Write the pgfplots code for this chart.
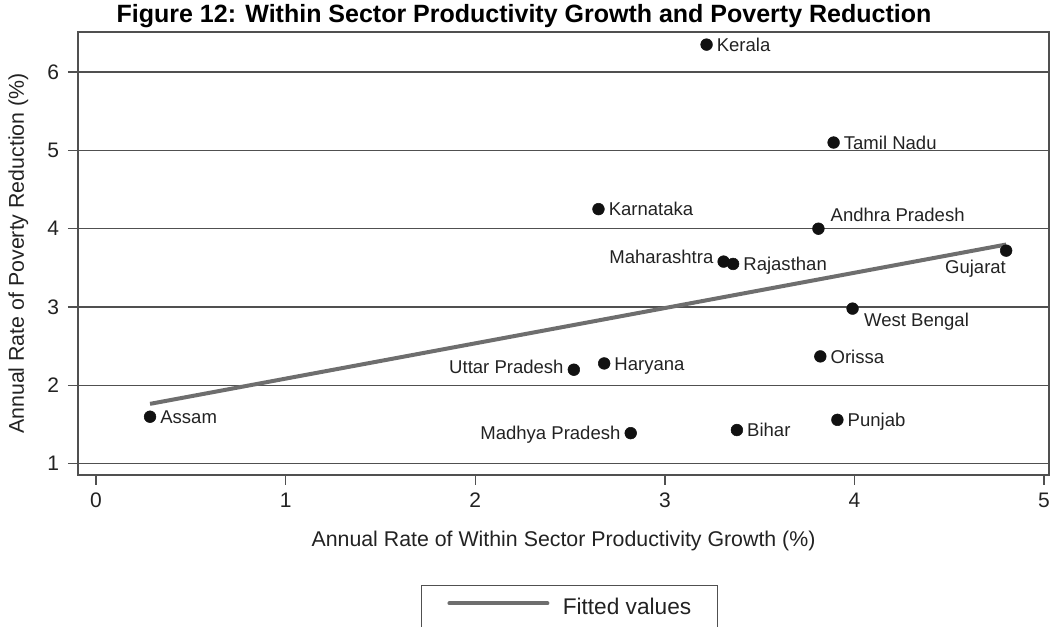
\documentclass[border=0pt]{standalone}
\usepackage{fontspec}
\setmainfont{Liberation Sans}
\usepackage{pgfplots}
\pgfplotsset{compat=1.18}

\definecolor{gridc}{HTML}{505050}
\definecolor{fitc}{HTML}{6E6E6E}
\definecolor{dotc}{HTML}{111111}
\definecolor{txtc}{HTML}{222222}

% labelled state markers: #1 anchor, #2 x offset, #3 y offset
\pgfplotsset{
  states/.style n args={3}{
    only marks, mark=*, mark size=4.4pt,
    mark options={fill=dotc, draw=dotc},
    point meta=explicit symbolic,
    nodes near coords,
    every node near coord/.append style={
      anchor=#1, inner sep=0pt, xshift=#2, yshift=#3,
      font=\fontsize{13.9}{16}\selectfont, text=txtc},
    forget plot,
  },
}

\begin{document}
\begin{tikzpicture}
\begin{axis}[
  at={(0,0)}, anchor=south west,
  scale only axis, width=728.25pt, height=332.25pt,
  xmin=-0.095, xmax=5.026, ymin=0.856, ymax=6.511,
  xtick={0,1,2,3,4,5}, ytick={1,2,3,4,5,6},
  tick align=outside, major tick length=7.5pt,
  xtick pos=bottom, ytick pos=left,
  ymajorgrids, grid style={gridc, line width=1.1pt},
  axis line style={gridc, line width=1pt},
  tick style={gridc, line width=1pt},
  /pgf/number format/assume math mode=true,
  ticklabel style={font=\fontsize{15.75}{18}\selectfont, text=txtc},
  xticklabel style={anchor=north, inner sep=0pt, yshift=-6pt},
  yticklabel style={anchor=east, inner sep=0pt, xshift=-6.5pt},
  xlabel={Annual Rate of Within Sector Productivity Growth (\%)},
  ylabel={Annual Rate of Poverty Reduction (\%)},
  label style={font=\fontsize{16}{19}\selectfont, text=txtc},
  xlabel style={at={(axis description cs:0.5,-0.149)}, anchor=center},
  ylabel style={at={(axis description cs:-0.0613,0.5)}, anchor=center},
  title={Figure 12: Within Sector Productivity Growth and Poverty Reduction},
  title style={at={(axis description cs:0.4593,1.003)}, anchor=base, yshift=0pt,
    inner sep=0pt, font=\fontsize{18.75}{22}\selectfont\bfseries, text=black},
  legend style={at={(axis description cs:0.353,-0.248)}, anchor=north west,
    draw=gridc, line width=1pt, fill=white,
    inner xsep=19.5pt, inner ysep=9.5pt,
    nodes={inner sep=0pt},
    /tikz/column sep=10pt,
    font=\fontsize{17}{20}\selectfont, text=txtc},
  legend image code/.code={\draw[#1, line cap=round] (-1pt,0.3em) -- (72.5pt,0.3em);},
]
% labels to the right
\addplot[states={base west}{7.5pt}{-5pt}] coordinates {
  (3.22,6.35) [Kerala]
  (3.89,5.10) [Tamil Nadu]
  (2.65,4.25) [Karnataka]
  (3.36,3.55) [Rajasthan]
  (3.82,2.37) [Orissa]
  (3.91,1.56) [Punjab]
  (3.38,1.43) [Bihar]
  (2.68,2.28) [Haryana]
  (0.285,1.60) [Assam]
};
\addplot[states={base west}{9pt}{5.5pt}] coordinates {(3.81,4.00) [Andhra Pradesh]};
\addplot[states={base west}{8.5pt}{-13.25pt}] coordinates {(3.99,2.98) [West Bengal]};
% labels to the left
\addplot[states={base east}{-7.5pt}{-1.25pt}] coordinates {(3.31,3.58) [Maharashtra]};
\addplot[states={base east}{-7.5pt}{-2.75pt}] coordinates {(2.52,2.20) [Uttar Pradesh]};
\addplot[states={base east}{-7.5pt}{-5pt}] coordinates {(2.82,1.39) [Madhya Pradesh]};
\addplot[states={base east}{0pt}{-17pt}] coordinates {(4.80,3.72) [Gujarat]};
% least-squares line
\addplot[fitc, line width=3pt] coordinates {(0.285,1.764) (4.80,3.798)};
\addlegendentry{Fitted values}
\end{axis}
\pgfresetboundingbox
\path (-58.5pt,-114pt) rectangle (729.75pt,356.25pt);
\end{tikzpicture}
\end{document}
